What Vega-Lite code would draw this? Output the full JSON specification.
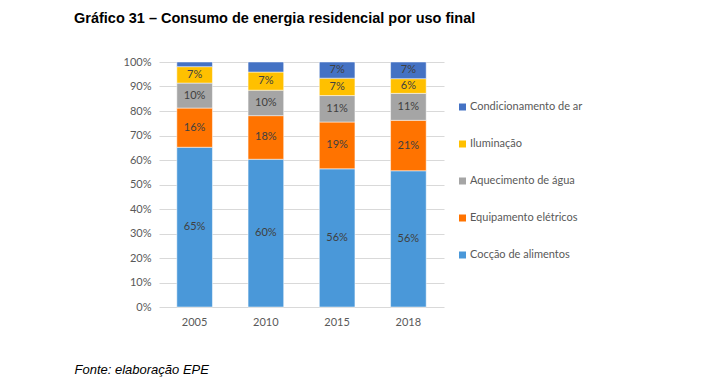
{
  "$schema": "https://vega.github.io/schema/vega-lite/v6.json",
  "width": 285,
  "height": 245,
  "autosize": {"type": "none"},
  "padding": {"left": 159, "top": 62, "right": 265, "bottom": 83},
  "background": "#ffffff",
  "config": {"view": {"stroke": null}, "font": "Lato"},
  "title": {
    "text": "Gráfico 31 – Consumo de energia residencial por uso final",
    "anchor": "start",
    "frame": "group",
    "dx": -85,
    "offset": 19,
    "baseline": "alphabetic",
    "font": "Liberation Sans",
    "fontSize": 14.5,
    "fontWeight": "bold",
    "color": "#000000"
  },
  "data": {
    "values": [
      {"year": "2005", "uso": "Cocção de alimentos", "ord": 1, "value": 0.652},
      {"year": "2005", "uso": "Equipamento elétricos", "ord": 2, "value": 0.160},
      {"year": "2005", "uso": "Aquecimento de água", "ord": 3, "value": 0.102},
      {"year": "2005", "uso": "Iluminação", "ord": 4, "value": 0.067},
      {"year": "2005", "uso": "Condicionamento de ar", "ord": 5, "value": 0.019},
      {"year": "2010", "uso": "Cocção de alimentos", "ord": 1, "value": 0.603},
      {"year": "2010", "uso": "Equipamento elétricos", "ord": 2, "value": 0.178},
      {"year": "2010", "uso": "Aquecimento de água", "ord": 3, "value": 0.104},
      {"year": "2010", "uso": "Iluminação", "ord": 4, "value": 0.074},
      {"year": "2010", "uso": "Condicionamento de ar", "ord": 5, "value": 0.041},
      {"year": "2015", "uso": "Cocção de alimentos", "ord": 1, "value": 0.564},
      {"year": "2015", "uso": "Equipamento elétricos", "ord": 2, "value": 0.191},
      {"year": "2015", "uso": "Aquecimento de água", "ord": 3, "value": 0.108},
      {"year": "2015", "uso": "Iluminação", "ord": 4, "value": 0.071},
      {"year": "2015", "uso": "Condicionamento de ar", "ord": 5, "value": 0.066},
      {"year": "2018", "uso": "Cocção de alimentos", "ord": 1, "value": 0.556},
      {"year": "2018", "uso": "Equipamento elétricos", "ord": 2, "value": 0.206},
      {"year": "2018", "uso": "Aquecimento de água", "ord": 3, "value": 0.110},
      {"year": "2018", "uso": "Iluminação", "ord": 4, "value": 0.060},
      {"year": "2018", "uso": "Condicionamento de ar", "ord": 5, "value": 0.068}
    ]
  },
  "encoding": {
    "x": {
      "field": "year",
      "type": "nominal",
      "scale": {"paddingInner": 0.5, "paddingOuter": 0.25},
      "axis": {
        "labelAngle": 0,
        "domain": false,
        "ticks": false,
        "labelPadding": 9,
        "labelFontSize": 11,
        "labelColor": "#595959",
        "title": "Fonte: elaboração EPE",
        "titleFont": "Liberation Sans",
        "titleFontSize": 13,
        "titleFontStyle": "italic",
        "titleFontWeight": "normal",
        "titleColor": "#000000",
        "titleAlign": "left",
        "titleBaseline": "alphabetic",
        "titleX": -85,
        "titleY": 66
      }
    },
    "y": {
      "field": "value",
      "type": "quantitative",
      "stack": "zero",
      "scale": {"domain": [0, 1], "nice": false},
      "axis": {
        "title": null,
        "values": [0, 0.1, 0.2, 0.3, 0.4, 0.5, 0.6, 0.7, 0.8, 0.9, 1],
        "format": ".0%",
        "domain": false,
        "ticks": false,
        "labelPadding": 8,
        "labelFontSize": 11,
        "labelColor": "#595959",
        "gridColor": "#D9D9D9",
        "gridWidth": 1
      }
    },
    "order": {"field": "ord", "type": "quantitative"}
  },
  "layer": [
    {
      "mark": {"type": "bar", "stroke": "#ffffff", "strokeWidth": 0.5},
      "encoding": {
        "color": {
          "field": "uso",
          "type": "nominal",
          "scale": {
            "domain": ["Condicionamento de ar", "Iluminação", "Aquecimento de água", "Equipamento elétricos", "Cocção de alimentos"],
            "range": ["#4472C4", "#FFC000", "#A5A5A5", "#FF7300", "#4A98D9"]
          },
          "legend": {
            "title": null,
            "orient": "none",
            "legendX": 298,
            "legendY": 39.5,
            "symbolType": "square",
            "symbolSize": 49,
            "symbolStrokeWidth": 0,
            "labelFontSize": 11,
            "labelColor": "#595959",
            "labelOffset": 2,
            "rowPadding": 25
          }
        }
      }
    },
    {
      "transform": [{"filter": "datum.value >= 0.05"}],
      "mark": {"type": "text", "fontSize": 11, "color": "#404040", "baseline": "middle"},
      "encoding": {
        "y": {"field": "value", "type": "quantitative", "stack": "zero", "bandPosition": 0.5},
        "text": {"field": "value", "type": "quantitative", "format": ".0%"}
      }
    }
  ]
}
